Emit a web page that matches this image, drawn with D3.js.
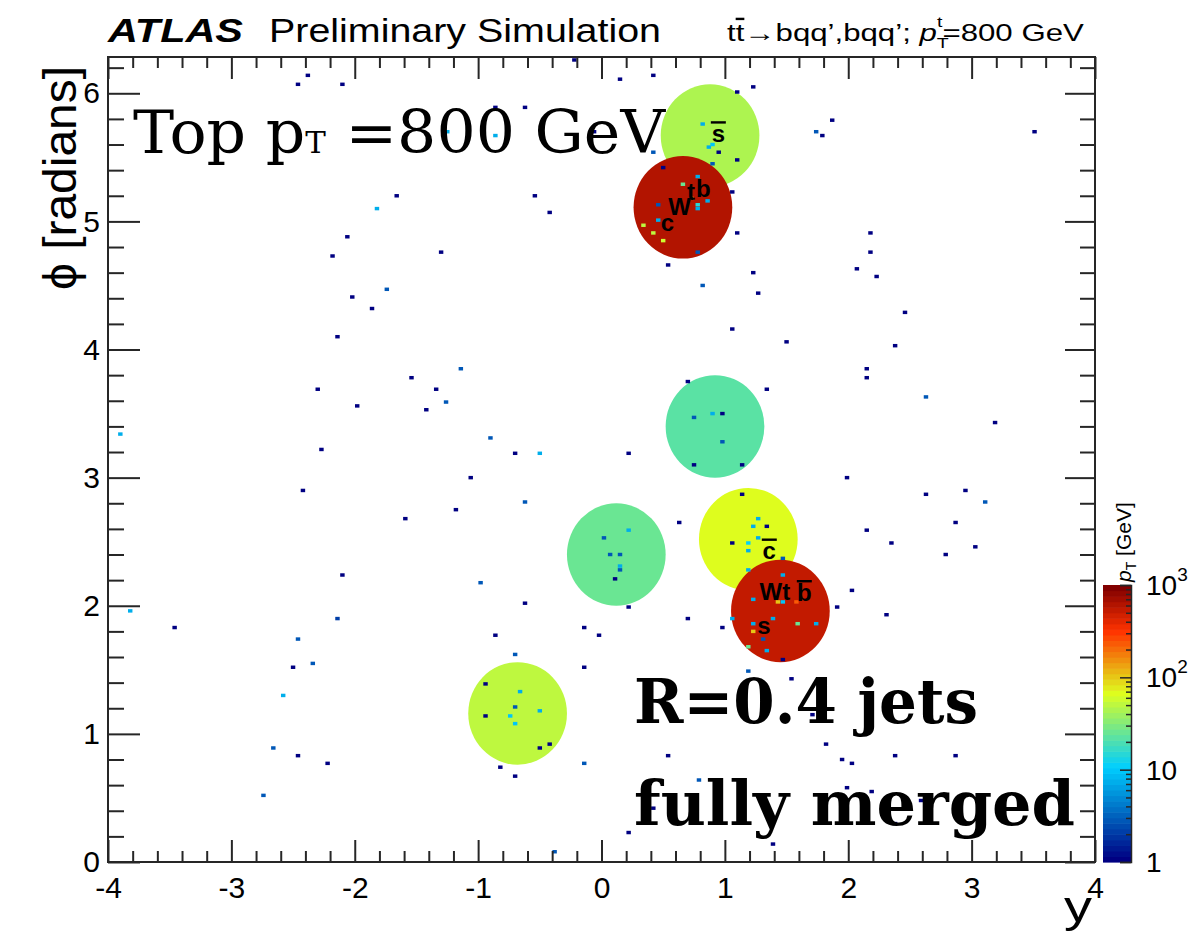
<!DOCTYPE html>
<html>
<head>
<meta charset="utf-8">
<script src="https://cdn.jsdelivr.net/npm/d3@7"></script>
<style>
  body { margin: 0; background: #ffffff; }
  svg { display: block; }
</style>
</head>
<body>
<svg id="chart" width="1190" height="935"></svg>
<script>
// ---- axis ranges and tick labels ----
const rapidityRange = [-4, 4];
const phiRange = [0, 2 * Math.PI];
const xTickValues = [-4, -3, -2, -1, 0, 1, 2, 3, 4];
const xTickLabels = ["-4", "-3", "-2", "-1", "0", "1", "2", "3", "4"];
const phiTickValues = [0, 1, 2, 3, 4, 5, 6];
const phiTickLabels = ["0", "1", "2", "3", "4", "5", "6"];
const zRange = [1, 1000];
const zTickValues = [1, 10, 100, 1000];
const zTickBase = ["1", "10", "10", "10"];
const zTickExp = ["", "", "2", "3"];

// ---- R=0.4 jets: rapidity, phi, pT [GeV] ----
const jetR = 0.4;
const jetY   = [0.88, 0.66, 0.92, 0.12, 1.19, 1.45, -0.68];
const jetPhi = [5.67, 5.11, 3.40, 2.40, 2.52, 1.96, 1.16];
const jetPt  = [42, 650, 21, 27, 66, 520, 53];

// ---- calorimeter cells: rapidity, phi, pT [GeV] ----
const cellY = [
  -0.22, -2.38, -2.46, -2.10, -0.86, -0.62, -1.25, -0.86, -0.06, -1.66,
  -1.82, -0.54, -0.42, -2.06, -2.18, -1.30, -1.74, -2.02, -1.86, -2.14,
  -1.14, -1.54, -2.30, -1.34, -1.26, -1.98, -1.42, -3.90, -0.90, -2.27,
  -0.70, -0.50, 0.15, 0.42, 1.10, 1.23, 1.87, 1.74, 1.79, 3.51,
  0.82, 0.87, 0.90, 0.95, 1.10, 0.90, 0.42, 0.50, 1.06, 0.78,
  0.66, 0.86, 0.78, 0.78, 0.46, 0.46, 0.34, 0.42, 0.50, 0.78,
  1.10, 2.18, 2.18, 2.07, 2.23, 0.54, 1.23, 0.82, 1.27, 2.46,
  1.06, 1.50, 2.38, 2.15, 2.15, 0.70, 1.34, 2.63, 3.19, 0.22,
  0.75, 0.90, 0.98, 0.98, 0.75, 1.14, -1.06, -2.42, -0.62, -1.18,
  -1.59, -2.10, -0.98, -0.62, -3.82, -3.46, -2.14, -2.46, -0.86, -0.14,
  -0.02, -2.50, -2.34, -0.70, -0.14, -2.58, -0.94, -0.66, -0.70, -0.94,
  -0.74, -0.50, -0.70, -0.50, -0.42, -2.66, -2.46, -2.22, -0.82, -0.70,
  -0.14, -2.74, -0.38, 0.02, 1.99, 2.63, 2.95, 3.11, 2.87, 3.03,
  2.79, 2.15, 2.35, 0.63, 0.22, 0.07, 0.15, 0.15, 0.15, 0.11,
  0.22, 0.70, 0.98, 1.14, 1.27, 1.23, 1.34, 1.06, 1.19, 1.27,
  1.19, 1.19, 1.47, 1.47, 1.23, 1.43, 1.47, 1.58, 1.06, 1.23,
  1.39, 1.59, 1.74, 1.23, 1.31, 1.19, 1.34, 1.47, 2.03, 1.91,
  2.31, 1.19, 1.54, 1.71, 1.82, 0.54, 1.95, 2.03, 2.38, 2.87,
  0.79, 1.99, 2.19, 2.59, 0.42, 0.22, 1.39, 2.38, 0.73
];
const cellPhi = [
  6.26, 6.14, 6.07, 6.07, 5.89, 5.89, 5.70, 5.67, 5.70, 5.20,
  5.10, 5.20, 5.07, 4.88, 4.73, 4.76, 4.47, 4.41, 4.32, 4.10,
  3.85, 3.78, 3.69, 3.69, 3.59, 3.56, 3.53, 3.34, 3.31, 3.22,
  3.19, 3.19, 6.11, 6.14, 6.01, 6.05, 5.79, 5.70, 5.67, 5.70,
  5.76, 5.58, 5.60, 5.54, 5.48, 5.45, 5.54, 5.42, 5.23, 5.35,
  5.29, 5.16, 5.13, 5.10, 5.13, 5.01, 4.97, 4.91, 4.85, 4.76,
  4.91, 4.91, 4.76, 4.63, 4.57, 4.66, 4.60, 4.50, 4.44, 4.29,
  4.16, 4.06, 4.03, 3.85, 3.78, 3.75, 3.69, 3.63, 3.43, 3.19,
  3.47, 3.50, 3.50, 3.28, 3.10, 3.10, 3.00, 2.90, 2.81, 2.75,
  2.68, 2.24, 2.18, 2.02, 1.96, 1.83, 1.90, 1.74, 1.77, 1.83,
  1.77, 1.52, 1.55, 1.62, 1.52, 1.30, 1.39, 1.33, 1.21, 1.14,
  1.14, 1.18, 1.08, 0.89, 0.92, 0.89, 0.83, 0.77, 0.74, 0.67,
  0.77, 0.52, 0.08, 2.53, 3.00, 2.87, 2.90, 2.81, 2.65, 2.46,
  2.40, 2.59, 2.49, 2.65, 2.59, 2.40, 2.40, 2.31, 2.28, 2.21,
  1.99, 1.90, 1.83, 2.87, 2.68, 2.62, 2.62, 2.49, 2.49, 2.53,
  2.43, 2.28, 2.37, 2.24, 2.05, 2.03, 2.03, 2.03, 1.90, 1.86,
  1.90, 1.86, 1.86, 1.80, 1.74, 1.68, 1.65, 1.58, 2.12, 1.99,
  1.93, 1.49, 1.43, 1.15, 0.92, 0.83, 0.80, 0.77, 0.83, 0.83,
  0.64, 0.58, 0.55, 0.48, 0.42, 0.23, 0.14, 0.30, 5.18
];
const cellPt = [
  1, 1, 1, 1, 1, 1, 7, 7, 1, 1,
  7, 1, 1, 1, 1, 1, 3, 1, 1, 1,
  3, 1, 1, 1, 3, 1, 1, 7, 3, 1,
  1, 7, 1, 1, 1, 1, 1, 3, 1, 1,
  7, 7, 10, 1, 1, 3, 3, 1, 1, 7,
  25, 7, 15, 7, 3, 7, 50, 50, 60, 3,
  1, 1, 1, 1, 1, 1, 1, 3, 1, 1,
  1, 1, 1, 1, 1, 1, 1, 3, 1, 1,
  3, 7, 1, 3, 1, 1, 1, 1, 3, 1,
  1, 1, 3, 1, 7, 1, 2, 3, 1, 1,
  1, 1, 3, 3, 1, 7, 1, 7, 3, 1,
  10, 7, 10, 1, 1, 3, 1, 1, 1, 1,
  3, 3, 3, 3, 1, 1, 1, 3, 1, 1,
  1, 1, 1, 1, 7, 3, 3, 7, 3, 1,
  1, 1, 1, 1, 7, 7, 1, 1, 12, 7,
  7, 7, 3, 7, 7, 100, 10, 220, 7, 7,
  7, 25, 7, 100, 3, 25, 7, 1, 1, 1,
  1, 3, 1, 1, 1, 1, 1, 1, 1, 1,
  3, 1, 1, 1, 1, 1, 1, 1, 200
];
// cell granularity in (y, phi)
const cellDY = 0.036, cellDPhi = 0.027;

// ---- parton labels ----
const partonText = ["s", "c", "W", "t", "b", "c", "W", "t", "b", "s"];
const partonBar  = [true, false, false, false, false, true, false, false, true, false];
const partonY    = [0.947, 0.534, 0.632, 0.725, 0.826, 1.360, 1.372, 1.498, 1.644, 1.316];
const partonPhi  = [5.679, 4.988, 5.112, 5.230, 5.250, 2.422, 2.108, 2.108, 2.098, 1.843];

// ---- layout ----
const svg = d3.select("#chart");
const frame = { left: 108, right: 1095, top: 57, bottom: 862 };
const bar = { left: 1103, right: 1131, top: 585, bottom: 862 };
const SANS = "'Liberation Sans', Arial, Helvetica, sans-serif";
const AXIS_COLOR = "#262626";

const x = d3.scaleLinear().domain(rapidityRange).range([frame.left, frame.right]);
const yPhi = d3.scaleLinear().domain(phiRange).range([frame.bottom, frame.top]);
const zAxisScale = d3.scaleLog().domain(zRange).range([bar.bottom, bar.top]);
const zFrac = d3.scaleLog().domain(zRange).range([0, 1]).clamp(true);

// rainbow palette (blue -> cyan -> yellow -> red -> dark red), 50 contour levels
const palStops = [0.00, 0.34, 0.61, 0.84, 1.00];
const palR = [0.00, 0.00, 0.87, 1.00, 0.51];
const palG = [0.00, 0.81, 1.00, 0.20, 0.00];
const palB = [0.51, 1.00, 0.12, 0.00, 0.00];
const gradient = d3.scaleLinear()
  .domain(palStops)
  .range(palStops.map((s, i) => d3.rgb(palR[i] * 255, palG[i] * 255, palB[i] * 255)))
  .interpolate(d3.interpolateRgb);
const NCONT = 50;
function levelColor(i) { return gradient(i / (NCONT - 1)); }
function colorOf(v) {
  let i = Math.floor(zFrac(v) * NCONT);
  if (i >= NCONT) i = NCONT - 1;
  if (i < 0) i = 0;
  return levelColor(i);
}

// clip for plot area
svg.append("defs").append("clipPath").attr("id", "plotClip")
  .append("rect")
  .attr("x", frame.left).attr("y", frame.top)
  .attr("width", frame.right - frame.left).attr("height", frame.bottom - frame.top);

const plot = svg.append("g").attr("clip-path", "url(#plotClip)");

// jets as filled discs of radius R
const jets = jetY.map((y, i) => ({ y, phi: jetPhi[i], pt: jetPt[i] }));
plot.selectAll("ellipse.jet").data(jets).join("ellipse")
  .attr("class", "jet")
  .attr("cx", d => x(d.y))
  .attr("cy", d => yPhi(d.phi))
  .attr("rx", d => x(d.y + jetR) - x(d.y))
  .attr("ry", d => yPhi(d.phi) - yPhi(d.phi + jetR))
  .attr("fill", d => colorOf(d.pt));

// cells
const cells = cellY.map((y, i) => ({ y, phi: cellPhi[i], pt: cellPt[i] }));
plot.selectAll("rect.cell").data(cells).join("rect")
  .attr("class", "cell")
  .attr("x", d => x(d.y - cellDY / 2))
  .attr("y", d => yPhi(d.phi + cellDPhi / 2))
  .attr("width", d => x(d.y + cellDY / 2) - x(d.y - cellDY / 2))
  .attr("height", d => yPhi(d.phi - cellDPhi / 2) - yPhi(d.phi + cellDPhi / 2))
  .attr("fill", d => colorOf(d.pt));

// parton labels
const partons = partonText.map((t, i) => ({ t, bar: partonBar[i], y: partonY[i], phi: partonPhi[i] }));
const pl = svg.append("g")
  .attr("font-family", SANS).attr("font-weight", "bold").attr("font-size", 24)
  .attr("fill", "#000");
pl.selectAll("text").data(partons).join("text")
  .attr("x", d => x(d.y)).attr("y", d => yPhi(d.phi))
  .attr("dy", "0.32em")
  .attr("text-anchor", "middle")
  .text(d => d.t);
pl.selectAll("line").data(partons.filter(d => d.bar)).join("line")
  .attr("x1", d => x(d.y) - 7.5).attr("x2", d => x(d.y) + 7.5)
  .attr("y1", d => yPhi(d.phi) - 12).attr("y2", d => yPhi(d.phi) - 12)
  .attr("stroke", "#000").attr("stroke-width", 2.4);

// ---- axes (ticks on all four sides, pointing inward) ----
function styleAxis(g) {
  g.select(".domain").remove();
  g.selectAll("line").attr("stroke", AXIS_COLOR).attr("stroke-width", 2);
  g.attr("font-family", SANS).attr("font-size", 30).attr("fill", "#000");
  g.selectAll("text").attr("fill", "#000");
  return g;
}
const xMinor = d3.range(-40, 41, 2).map(d => d / 10).filter(d => !Number.isInteger(d));
const phiMinor = d3.range(0, 63, 2).map(d => d / 10).filter(d => !Number.isInteger(d));

styleAxis(svg.append("g").attr("transform", `translate(0,${frame.bottom})`)
  .call(d3.axisBottom(x).tickValues(xTickValues).tickSize(-22).tickPadding(15)
    .tickFormat((d, i) => xTickLabels[i])));
styleAxis(svg.append("g").attr("transform", `translate(0,${frame.bottom})`)
  .call(d3.axisBottom(x).tickValues(xMinor).tickSize(-11).tickFormat("")));
styleAxis(svg.append("g").attr("transform", `translate(0,${frame.top})`)
  .call(d3.axisTop(x).tickValues(xTickValues).tickSize(-22).tickFormat("")));
styleAxis(svg.append("g").attr("transform", `translate(0,${frame.top})`)
  .call(d3.axisTop(x).tickValues(xMinor).tickSize(-11).tickFormat("")));

styleAxis(svg.append("g").attr("transform", `translate(${frame.left},0)`)
  .call(d3.axisLeft(yPhi).tickValues(phiTickValues).tickSize(-32).tickPadding(8)
    .tickFormat((d, i) => phiTickLabels[i])));
styleAxis(svg.append("g").attr("transform", `translate(${frame.left},0)`)
  .call(d3.axisLeft(yPhi).tickValues(phiMinor).tickSize(-16).tickFormat("")));
styleAxis(svg.append("g").attr("transform", `translate(${frame.right},0)`)
  .call(d3.axisRight(yPhi).tickValues(phiTickValues).tickSize(-30).tickFormat("")));
styleAxis(svg.append("g").attr("transform", `translate(${frame.right},0)`)
  .call(d3.axisRight(yPhi).tickValues(phiMinor).tickSize(-15).tickFormat("")));

// frame
svg.append("rect")
  .attr("x", frame.left).attr("y", frame.top)
  .attr("width", frame.right - frame.left).attr("height", frame.bottom - frame.top)
  .attr("fill", "none").attr("stroke", AXIS_COLOR).attr("stroke-width", 2);

// ---- colour bar ----
const levels = d3.range(NCONT);
const lvlLo = i => Math.pow(10, 3 * i / NCONT);
const lvlHi = i => Math.pow(10, 3 * (i + 1) / NCONT);
svg.append("g").selectAll("rect").data(levels).join("rect")
  .attr("x", bar.left).attr("width", bar.right - bar.left)
  .attr("y", i => zAxisScale(lvlHi(i)))
  .attr("height", i => zAxisScale(lvlLo(i)) - zAxisScale(lvlHi(i)) + 0.6)
  .attr("fill", i => levelColor(i));

const zMinor = [];
[1, 10, 100].forEach(dec => { for (let k = 2; k <= 9; k++) zMinor.push(dec * k); });
const zg1 = svg.append("g").attr("transform", `translate(${bar.right},0)`)
  .call(d3.axisRight(zAxisScale).tickValues(zTickValues).tickSize(-11).tickFormat(""));
zg1.select(".domain").attr("stroke", AXIS_COLOR).attr("stroke-width", 1.5);
zg1.selectAll("line").attr("stroke", AXIS_COLOR).attr("stroke-width", 1.5);
const zg2 = svg.append("g").attr("transform", `translate(${bar.right},0)`)
  .call(d3.axisRight(zAxisScale).tickValues(zMinor).tickSize(-5).tickFormat(""));
zg2.select(".domain").remove();
zg2.selectAll("line").attr("stroke", AXIS_COLOR).attr("stroke-width", 1.5);

const zl = svg.append("g").attr("font-family", SANS).attr("font-size", 28).attr("fill", "#000");
zTickValues.forEach((v, i) => {
  const t = zl.append("text").attr("x", 1146).attr("y", zAxisScale(v)).attr("dy", "0.36em");
  t.append("tspan").text(zTickBase[i]);
  if (zTickExp[i]) t.append("tspan").attr("font-size", 19).attr("dy", "-0.75em").text(zTickExp[i]);
});

// colour bar title
const zTitle = svg.append("text")
  .attr("transform", `translate(1131,${bar.top - 3}) rotate(-90)`)
  .attr("font-family", SANS).attr("font-size", 21).attr("fill", "#000");
zTitle.append("tspan").attr("font-style", "italic").text("p");
zTitle.append("tspan").attr("font-size", 14).attr("dy", 5).text("T");
zTitle.append("tspan").attr("dy", -5).text(" [GeV]");

// ---- axis titles ----
svg.append("text")
  .attr("transform", `translate(76,${178}) rotate(-90)`)
  .attr("text-anchor", "middle")
  .attr("font-family", SANS).attr("font-size", 46).attr("fill", "#000")
  .attr("textLength", 224).attr("lengthAdjust", "spacingAndGlyphs")
  .text("\u03D5 [radians]");

svg.append("text")
  .attr("x", 1064).attr("y", 922)
  .attr("font-family", SANS).attr("font-size", 44).attr("fill", "#000")
  .attr("textLength", 28).attr("lengthAdjust", "spacingAndGlyphs")
  .text("y");

// ---- header ----
svg.append("text")
  .attr("x", 108).attr("y", 42)
  .attr("font-family", SANS).attr("font-size", 33).attr("font-weight", "bold").attr("font-style", "italic")
  .attr("textLength", 135).attr("lengthAdjust", "spacingAndGlyphs")
  .text("ATLAS");
svg.append("text")
  .attr("x", 269).attr("y", 42)
  .attr("font-family", SANS).attr("font-size", 33)
  .attr("textLength", 392).attr("lengthAdjust", "spacingAndGlyphs")
  .text("Preliminary Simulation");

const hdr = svg.append("g").attr("transform", "translate(727,41) scale(1.3,1)")
  .attr("font-family", SANS).attr("font-size", 24).attr("fill", "#000");
const ht = hdr.append("text").attr("x", 0).attr("y", 0);
ht.append("tspan").text("t");
ht.append("tspan").attr("text-decoration", "overline").text("t");
ht.append("tspan").text("\u2192bqq\u2019,bqq\u2019; ");
ht.append("tspan").attr("font-style", "italic").text("p");
ht.append("tspan").attr("font-size", 15).attr("dy", 7).text("T");
ht.append("tspan").attr("font-size", 15).attr("dx", -9).attr("dy", -21).text("t");
ht.append("tspan").attr("dy", 14).text("=800 GeV");

// ---- annotations ----
const topLabel = svg.append("text")
  .attr("x", 133).attr("y", 153)
  .attr("font-family", "'DejaVu Serif', serif").attr("font-size", 60).attr("fill", "#000")
  .attr("textLength", 532).attr("lengthAdjust", "spacingAndGlyphs");
topLabel.append("tspan").text("Top p");
topLabel.append("tspan").attr("font-size", 30).text("T");
topLabel.append("tspan").text(" =800 GeV");

svg.append("text")
  .attr("x", 634).attr("y", 723)
  .attr("font-family", "'DejaVu Serif', serif").attr("font-weight", "bold").attr("font-size", 62)
  .attr("fill", "#000")
  .attr("textLength", 344).attr("lengthAdjust", "spacingAndGlyphs")
  .text("R=0.4 jets");
svg.append("text")
  .attr("x", 634).attr("y", 825)
  .attr("font-family", "'DejaVu Serif', serif").attr("font-weight", "bold").attr("font-size", 62)
  .attr("fill", "#000")
  .attr("textLength", 441).attr("lengthAdjust", "spacingAndGlyphs")
  .text("fully merged");
</script>
</body>
</html>
